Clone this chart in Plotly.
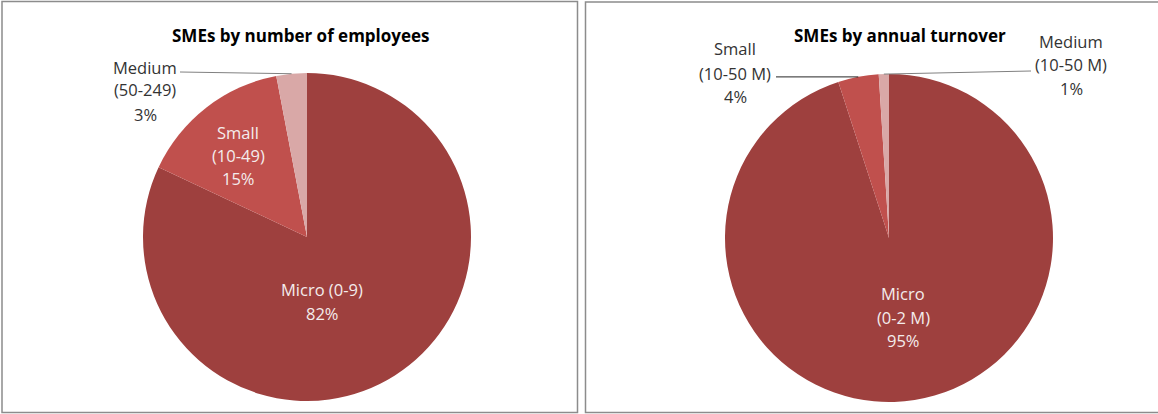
import math
import plotly.graph_objects as go

# --- data -------------------------------------------------------------
emp_labels = ["Micro", "Small", "Medium"]
emp_ranges = ["(0-9)", "(10-49)", "(50-249)"]
emp_values = [82, 15, 3]

turn_labels = ["Micro", "Small", "Medium"]
turn_ranges = ["(0-2 M)", "(10-50 M)", "(10-50 M)"]
turn_values = [95, 4, 1]

titles = ["SMEs by number of employees", "SMEs by annual turnover"]
colors = ["#9E403E", "#C0504D", "#D9A8A7"]

# --- canvas geometry (pixels) -----------------------------------------
W, H = 1158, 414
R = 164
centers = [(307, 237), (889, 238)]
FONT = "Open Sans"
TXT_DARK = "#333333"
TXT_LIGHT = "#F4ECEC"
LABEL_SIZE = 16.5
TITLE_SIZE = 17


def px(x):
    return x / W


def py(y):
    return 1 - y / H


def arc_mid(values, idx, center):
    """Pixel point on the rim at the middle of slice idx (clockwise from 12 o'clock)."""
    total = sum(values)
    start = sum(values[:idx]) / total
    frac = start + values[idx] / total / 2
    ang = 2 * math.pi * frac
    cx, cy = center
    return cx + R * math.sin(ang), cy - R * math.cos(ang)


fig = go.Figure()

for values, labels, (cx, cy) in [
    (emp_values, emp_labels, centers[0]),
    (turn_values, turn_labels, centers[1]),
]:
    fig.add_trace(
        go.Pie(
            labels=labels,
            values=values,
            sort=False,
            direction="clockwise",
            rotation=0,
            marker=dict(colors=colors, line=dict(width=0)),
            textinfo="none",
            hoverinfo="skip",
            showlegend=False,
            domain=dict(x=[px(cx - R), px(cx + R)], y=[py(cy + R), py(cy - R)]),
        )
    )

annotations = []
shapes = []


def add_lines(lines, x, ys, color, size=LABEL_SIZE, bold=False):
    for text, y in zip(lines, ys):
        annotations.append(
            dict(
                x=px(x), y=py(y), xref="paper", yref="paper",
                text=f"<b>{text}</b>" if bold else text,
                showarrow=False, xanchor="center", yanchor="middle",
                font=dict(family=FONT, size=size, color=color),
            )
        )


def leader(x0, y0, x1, y1, color):
    shapes.append(
        dict(type="line", xref="paper", yref="paper",
             x0=px(x0), y0=py(y0), x1=px(x1), y1=py(y1),
             line=dict(color=color, width=1))
    )


# titles
add_lines([titles[0]], 301, [35], "#000000", size=TITLE_SIZE, bold=True)
add_lines([titles[1]], 900, [35], "#000000", size=TITLE_SIZE, bold=True)

# left chart labels
add_lines([f"{emp_labels[0]} {emp_ranges[0]}", f"{emp_values[0]}%"], 322, [289, 313], TXT_LIGHT)
add_lines([emp_labels[1], emp_ranges[1], f"{emp_values[1]}%"], 238, [132, 155, 179], TXT_LIGHT)
add_lines([emp_labels[2], emp_ranges[2], f"{emp_values[2]}%"], 145, [67, 90, 114], TXT_DARK)
mx, my = arc_mid(emp_values, 2, centers[0])
leader(180, 72, mx, my, "#808080")

# right chart labels
add_lines([turn_labels[0], turn_ranges[0], f"{turn_values[0]}%"], 903, [293, 317, 340], TXT_LIGHT)
add_lines([turn_labels[1], turn_ranges[1], f"{turn_values[1]}%"], 735, [49, 73, 96], TXT_DARK)
mx, my = arc_mid(turn_values, 1, centers[1])
leader(776, my, mx, my, "#262626")
add_lines([turn_labels[2], turn_ranges[2], f"{turn_values[2]}%"], 1071, [41, 64, 88], TXT_DARK)
mx, my = arc_mid(turn_values, 2, centers[1])
leader(1031, 71, mx, my, "#808080")

# panel frames
shapes.append(dict(type="rect", xref="paper", yref="paper",
                   x0=px(2), y0=py(412.5), x1=px(577.5), y1=py(1.5),
                   line=dict(color="#8C8C8C", width=1.5)))
shapes.append(dict(type="rect", xref="paper", yref="paper",
                   x0=px(585.5), y0=py(412.5), x1=px(1165), y1=py(2),
                   line=dict(color="#8C8C8C", width=1.5)))

fig.update_layout(
    width=W, height=H,
    margin=dict(l=0, r=0, t=0, b=0),
    paper_bgcolor="white",
    plot_bgcolor="white",
    annotations=annotations,
    shapes=shapes,
)

fig.write_html("out.html")
